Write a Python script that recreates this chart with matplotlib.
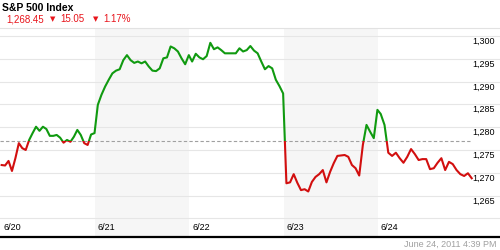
import matplotlib
matplotlib.use("Agg")
import matplotlib.pyplot as plt
import matplotlib.transforms as mtransforms
from matplotlib.patches import Rectangle
import numpy as np

plt.rcParams["font.family"] = ["Liberation Sans", "DejaVu Sans"]

# Intraday S&P 500 levels, one list per session
DAY_LABELS = ["6/20", "6/21", "6/22", "6/23", "6/24"]
JUN20 = [1271.7, 1271.6, 1272.6, 1270.4, 1273.2, 1276.5, 1275.4, 1275.0, 1277.2, 1278.7,
         1280.1, 1279.2, 1280.1, 1279.6, 1278.1, 1278.1, 1278.3, 1277.7, 1276.6, 1277.2,
         1276.8, 1277.9, 1279.4, 1278.3, 1276.5, 1276.1, 1278.4, 1278.7]
JUN21 = [1284.9, 1287.1, 1288.9, 1290.4, 1291.8, 1292.4, 1292.7, 1294.7, 1295.8, 1294.7,
         1294.1, 1294.4, 1294.0, 1294.4, 1293.3, 1292.4, 1292.3, 1292.9, 1295.1, 1295.3,
         1297.7, 1297.3, 1296.6, 1295.1, 1293.8, 1295.8]
JUN22 = [1294.4, 1296.1, 1295.3, 1294.9, 1295.6, 1298.5, 1297.1, 1297.5, 1296.9, 1296.2,
         1296.2, 1296.2, 1296.2, 1297.3, 1296.6, 1296.9, 1297.8, 1296.8, 1296.2, 1294.4,
         1292.7, 1293.4, 1292.9, 1290.4, 1289.0, 1287.4]
JUN23 = [1267.7, 1267.9, 1269.7, 1267.8, 1266.2, 1266.4, 1265.9, 1268.0, 1269.1, 1269.7,
         1270.6, 1267.9, 1270.2, 1272.1, 1273.7, 1273.8, 1273.9, 1273.5, 1271.7, 1271.0,
         1269.4, 1276.1, 1280.5, 1279.0, 1277.6, 1283.8]
JUN24 = [1282.9, 1280.5, 1274.4, 1273.7, 1274.4, 1273.2, 1272.2, 1273.5, 1275.2, 1274.1,
         1272.8, 1273.0, 1273.0, 1270.8, 1271.0, 1272.2, 1273.2, 1270.6, 1272.4, 1271.9,
         1270.6, 1269.7, 1269.3, 1269.9, 1268.8]
SESSIONS = [JUN20, JUN21, JUN22, JUN23, JUN24]

REFERENCE_LEVEL = 1277.0
GRID_LEVELS = [1260, 1265, 1270, 1275, 1280, 1285, 1290, 1295, 1300]
LABEL_LEVELS = [1265, 1270, 1275, 1280, 1285, 1290, 1295, 1300]

TITLE = "S&P 500 Index"
LAST = "1,268.45"
CHANGE = "15.05"
CHANGE_PCT = "1.17%"
TIMESTAMP = "June 24, 2011 4:39 PM"

GREEN = "#109a10"
RED = "#d20f0f"
HEAD_RED = "#e8141b"


def session_positions(sessions):
    xs, ys = [], []
    for k, vals in enumerate(sessions):
        start = 0.01 if k == 0 else 0.03
        xs.append(k + np.linspace(start, 0.995, len(vals)))
        ys.append(np.asarray(vals, dtype=float))
    return np.concatenate(xs), np.concatenate(ys)


def main():
    fig = plt.figure(figsize=(5, 2.5), dpi=100)
    ax = fig.add_axes([0, 13 / 250, 1, 209 / 250])

    ax.set_xlim(-0.0074, 5.295)
    ax.set_ylim(1255.92, 1301.75)

    # alternate-day shading
    for k in (1, 3):
        ax.axvspan(k, k + 1, color="#f6f6f6", zorder=0, lw=0)
    for lvl in GRID_LEVELS:
        ax.axhline(lvl, color="#e6e6e6", lw=0.8, zorder=1)

    x, y = session_positions(SESSIONS)
    ax.plot([-0.0074, x[-1]], [REFERENCE_LEVEL, REFERENCE_LEVEL], color="#a0a0a0",
            lw=0.8, ls=(0, (3, 2)), zorder=2)

    # price line: green above the reference, red below
    for color, lo, hi in ((GREEN, REFERENCE_LEVEL, 2000.0), (RED, 0.0, REFERENCE_LEVEL)):
        line, = ax.plot(x, y, color=color, lw=1.5, zorder=3, solid_joinstyle="round")
        clip = Rectangle((-10, lo), 30, hi - lo, transform=ax.transData)
        line.set_clip_path(clip)

    xt = mtransforms.blended_transform_factory(ax.transData, ax.transAxes)
    for k, lab in enumerate(DAY_LABELS):
        ax.text(k + 3 / 94.3, 0.045, lab, transform=xt, fontsize=6.5, va="center", ha="left")

    yt = mtransforms.blended_transform_factory(ax.transAxes, ax.transData)
    for lvl in LABEL_LEVELS:
        ax.text(0.99, lvl - 0.2, f"{lvl:,}", transform=yt, fontsize=6.5, ha="right", va="top")

    ax.set_xticks([])
    ax.set_yticks([])
    for side in ("left", "right"):
        ax.spines[side].set_visible(False)
    ax.spines["bottom"].set_linewidth(1.6)
    ax.spines["bottom"].set_color("black")
    ax.spines["top"].set_linewidth(0.8)
    ax.spines["top"].set_color("#e2e2e2")

    # header
    fig.text(2 / 500, 1 - 8 / 250, TITLE, fontsize=7.5, fontweight="bold", va="center", ha="left")
    fig.text(6 / 500, 1 - 19 / 250, LAST, fontsize=7, color=HEAD_RED, va="center", ha="left")
    fig.text(50 / 500, 1 - 19 / 250, "\u25BC", fontsize=5, color=HEAD_RED, va="center",
             ha="left", family="DejaVu Sans")
    fig.text(60 / 500, 1 - 19 / 250, CHANGE, fontsize=7, color=HEAD_RED, va="center", ha="left")
    fig.text(93 / 500, 1 - 19 / 250, "\u25BC", fontsize=5, color=HEAD_RED, va="center",
             ha="left", family="DejaVu Sans")
    fig.text(103 / 500, 1 - 19 / 250, CHANGE_PCT, fontsize=7, color=HEAD_RED, va="center", ha="left")

    fig.text(497 / 500, 1 - 244 / 250, TIMESTAMP, fontsize=6.5, color="#a0a0a0",
             va="center", ha="right")

    fig.savefig("out.png", dpi=100)
    plt.close(fig)


if __name__ == "__main__":
    main()
